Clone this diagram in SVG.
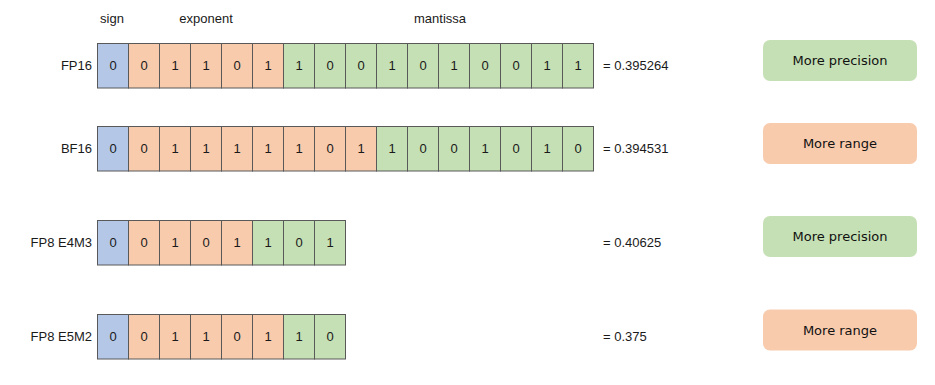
<svg xmlns="http://www.w3.org/2000/svg" width="935" height="385" viewBox="0 0 935 385">
<style>
.s{fill:#B4C7E7;stroke:#595959;stroke-width:1}
.e{fill:#F8CBAD;stroke:#595959;stroke-width:1}
.m{fill:#C5E0B4;stroke:#595959;stroke-width:1}
text{font-family:"Liberation Sans",Arial,sans-serif;font-size:13px;fill:#1a1a1a}
.c{text-anchor:middle}
.l{text-anchor:end}
.b{font-family:"DejaVu Sans",Verdana,sans-serif;font-size:13px;text-anchor:middle;fill:#111}
.gp{fill:#C5E0B4}
.or{fill:#F8CBAD}
</style>
<rect width="935" height="385" fill="#ffffff"/>
<g id="headers">
<text class="c" x="112" y="23">sign</text>
<text class="c" x="206" y="23">exponent</text>
<text class="c" x="440" y="23">mantissa</text>
</g>
<g id="fp16">
<text class="l" x="92" y="70">FP16</text>
<rect class="s" x="97.5" y="43.5" width="31" height="44.5"/>
<rect class="e" x="128.5" y="43.5" width="31" height="44.5"/>
<rect class="e" x="159.5" y="43.5" width="31" height="44.5"/>
<rect class="e" x="190.5" y="43.5" width="31" height="44.5"/>
<rect class="e" x="221.5" y="43.5" width="31" height="44.5"/>
<rect class="e" x="252.5" y="43.5" width="31" height="44.5"/>
<rect class="m" x="283.5" y="43.5" width="31" height="44.5"/>
<rect class="m" x="314.5" y="43.5" width="31" height="44.5"/>
<rect class="m" x="345.5" y="43.5" width="31" height="44.5"/>
<rect class="m" x="376.5" y="43.5" width="31" height="44.5"/>
<rect class="m" x="407.5" y="43.5" width="31" height="44.5"/>
<rect class="m" x="438.5" y="43.5" width="31" height="44.5"/>
<rect class="m" x="469.5" y="43.5" width="31" height="44.5"/>
<rect class="m" x="500.5" y="43.5" width="31" height="44.5"/>
<rect class="m" x="531.5" y="43.5" width="31" height="44.5"/>
<rect class="m" x="562.5" y="43.5" width="31" height="44.5"/>
<text class="c" x="113" y="70">0</text>
<text class="c" x="144" y="70">0</text>
<text class="c" x="175" y="70">1</text>
<text class="c" x="206" y="70">1</text>
<text class="c" x="237" y="70">0</text>
<text class="c" x="268" y="70">1</text>
<text class="c" x="299" y="70">1</text>
<text class="c" x="330" y="70">0</text>
<text class="c" x="361" y="70">0</text>
<text class="c" x="392" y="70">1</text>
<text class="c" x="423" y="70">0</text>
<text class="c" x="454" y="70">1</text>
<text class="c" x="485" y="70">0</text>
<text class="c" x="516" y="70">0</text>
<text class="c" x="547" y="70">1</text>
<text class="c" x="578" y="70">1</text>
<text x="603" y="70">= 0.395264</text>
</g>
<g id="bf16">
<text class="l" x="92" y="153">BF16</text>
<rect class="s" x="97.5" y="126.5" width="31" height="44.5"/>
<rect class="e" x="128.5" y="126.5" width="31" height="44.5"/>
<rect class="e" x="159.5" y="126.5" width="31" height="44.5"/>
<rect class="e" x="190.5" y="126.5" width="31" height="44.5"/>
<rect class="e" x="221.5" y="126.5" width="31" height="44.5"/>
<rect class="e" x="252.5" y="126.5" width="31" height="44.5"/>
<rect class="e" x="283.5" y="126.5" width="31" height="44.5"/>
<rect class="e" x="314.5" y="126.5" width="31" height="44.5"/>
<rect class="e" x="345.5" y="126.5" width="31" height="44.5"/>
<rect class="m" x="376.5" y="126.5" width="31" height="44.5"/>
<rect class="m" x="407.5" y="126.5" width="31" height="44.5"/>
<rect class="m" x="438.5" y="126.5" width="31" height="44.5"/>
<rect class="m" x="469.5" y="126.5" width="31" height="44.5"/>
<rect class="m" x="500.5" y="126.5" width="31" height="44.5"/>
<rect class="m" x="531.5" y="126.5" width="31" height="44.5"/>
<rect class="m" x="562.5" y="126.5" width="31" height="44.5"/>
<text class="c" x="113" y="153">0</text>
<text class="c" x="144" y="153">0</text>
<text class="c" x="175" y="153">1</text>
<text class="c" x="206" y="153">1</text>
<text class="c" x="237" y="153">1</text>
<text class="c" x="268" y="153">1</text>
<text class="c" x="299" y="153">1</text>
<text class="c" x="330" y="153">0</text>
<text class="c" x="361" y="153">1</text>
<text class="c" x="392" y="153">1</text>
<text class="c" x="423" y="153">0</text>
<text class="c" x="454" y="153">0</text>
<text class="c" x="485" y="153">1</text>
<text class="c" x="516" y="153">0</text>
<text class="c" x="547" y="153">1</text>
<text class="c" x="578" y="153">0</text>
<text x="603" y="153">= 0.394531</text>
</g>
<g id="fp8-e4m3">
<text class="l" x="92" y="247">FP8 E4M3</text>
<rect class="s" x="97.5" y="220.5" width="31" height="44.5"/>
<rect class="e" x="128.5" y="220.5" width="31" height="44.5"/>
<rect class="e" x="159.5" y="220.5" width="31" height="44.5"/>
<rect class="e" x="190.5" y="220.5" width="31" height="44.5"/>
<rect class="e" x="221.5" y="220.5" width="31" height="44.5"/>
<rect class="m" x="252.5" y="220.5" width="31" height="44.5"/>
<rect class="m" x="283.5" y="220.5" width="31" height="44.5"/>
<rect class="m" x="314.5" y="220.5" width="31" height="44.5"/>
<text class="c" x="113" y="247">0</text>
<text class="c" x="144" y="247">0</text>
<text class="c" x="175" y="247">1</text>
<text class="c" x="206" y="247">0</text>
<text class="c" x="237" y="247">1</text>
<text class="c" x="268" y="247">1</text>
<text class="c" x="299" y="247">0</text>
<text class="c" x="330" y="247">1</text>
<text x="603" y="247">= 0.40625</text>
</g>
<g id="fp8-e5m2">
<text class="l" x="92" y="341">FP8 E5M2</text>
<rect class="s" x="97.5" y="314.5" width="31" height="44.5"/>
<rect class="e" x="128.5" y="314.5" width="31" height="44.5"/>
<rect class="e" x="159.5" y="314.5" width="31" height="44.5"/>
<rect class="e" x="190.5" y="314.5" width="31" height="44.5"/>
<rect class="e" x="221.5" y="314.5" width="31" height="44.5"/>
<rect class="e" x="252.5" y="314.5" width="31" height="44.5"/>
<rect class="m" x="283.5" y="314.5" width="31" height="44.5"/>
<rect class="m" x="314.5" y="314.5" width="31" height="44.5"/>
<text class="c" x="113" y="341">0</text>
<text class="c" x="144" y="341">0</text>
<text class="c" x="175" y="341">1</text>
<text class="c" x="206" y="341">1</text>
<text class="c" x="237" y="341">0</text>
<text class="c" x="268" y="341">1</text>
<text class="c" x="299" y="341">1</text>
<text class="c" x="330" y="341">0</text>
<text x="603" y="341">= 0.375</text>
</g>
<g id="tag-fp16">
<rect class="gp" x="763" y="40" width="154" height="41" rx="7"/>
<text class="b" x="840" y="65">More precision</text>
</g>
<g id="tag-bf16">
<rect class="or" x="763" y="123" width="154" height="41" rx="7"/>
<text class="b" x="840" y="148">More range</text>
</g>
<g id="tag-e4m3">
<rect class="gp" x="763" y="216" width="154" height="41" rx="7"/>
<text class="b" x="840" y="241">More precision</text>
</g>
<g id="tag-e5m2">
<rect class="or" x="763" y="309.5" width="154" height="41" rx="7"/>
<text class="b" x="840" y="334.5">More range</text>
</g>
</svg>
